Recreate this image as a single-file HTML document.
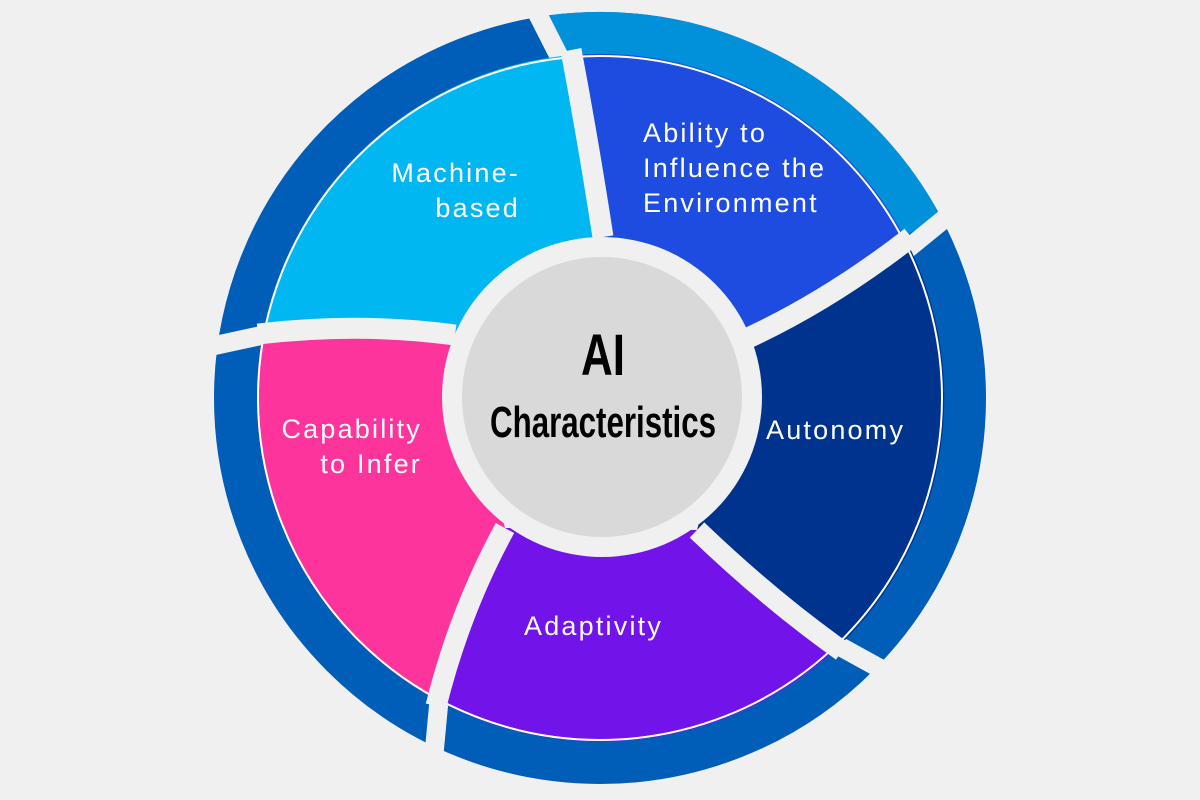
<!DOCTYPE html>
<html><head><meta charset="utf-8"><style>
html,body{margin:0;padding:0;background:#f0f0f0;}
svg{display:block;}
</style></head><body>
<svg width="1200" height="800" viewBox="0 0 1200 800" xmlns="http://www.w3.org/2000/svg">
<rect width="1200" height="800" fill="#f0f0f0"/>
<circle cx="600" cy="398" r="364" fill="none" stroke="#005eb8" stroke-width="44"/>
<path d="M549.3,37.5 A364,364 0 0 1 921.4,227.1" fill="none" stroke="#0091da" stroke-width="44"/>
<g stroke="#f0f0f0" stroke-width="19" fill="none">
<line x1="532" y1="3" x2="562" y2="62"/>
<line x1="954" y1="211" x2="900" y2="255"/>
<line x1="890" y1="674" x2="832" y2="642"/>
<line x1="434" y1="754" x2="440" y2="690"/>
<line x1="208" y1="347" x2="268" y2="334"/>
</g>
<path d="M603,237 Q588,140 572,55 A345,345 0 0 1 906,240 Q830,300 748,338 Z" fill="#1e4be0"/>
<path d="M748,338 Q830,300 906,240 A345,345 0 0 1 838,647 Q770,600 697,530 Z" fill="#00338d"/>
<path d="M697,530 Q770,600 838,647 A345,345 0 0 1 437,700 Q460,610 505,528 Z" fill="#7213ea"/>
<path d="M505,528 Q460,610 437,700 A345,345 0 0 1 263,333 Q360,322 455,335 Z" fill="#fd349c"/>
<path d="M455,335 Q360,322 263,333 A345,345 0 0 1 572,55 Q588,140 603,237 Z" fill="#00b7f1"/>
<circle cx="600" cy="398" r="342" fill="none" stroke="#ffffff" stroke-width="2"/>
<g stroke="#f0f0f0" stroke-width="21" fill="none">
<path d="M603,237 Q588,140 571,50"/>
<path d="M748,338 Q830,300 911,237"/>
<path d="M697,530 Q770,600 842,651"/>
<path d="M505,528 Q460,610 436,706"/>
<path d="M455,335 Q360,322 258,334"/>
</g>
<circle cx="602" cy="397" r="160" fill="#f0f0f0"/>
<circle cx="602" cy="397" r="140" fill="#d9d9d9"/>
<g font-family="Liberation Sans, sans-serif" font-size="27" fill="#ffffff" letter-spacing="2.2">
<text x="520" y="182" text-anchor="end">Machine-</text>
<text x="520" y="217" text-anchor="end">based</text>
<text x="643" y="142">Ability to</text>
<text x="643" y="177">Influence the</text>
<text x="643" y="212">Environment</text>
<text x="422" y="438" text-anchor="end">Capability</text>
<text x="422" y="473" text-anchor="end">to Infer</text>
<text x="766" y="439">Autonomy</text>
<text x="524" y="635">Adaptivity</text>
</g>
<g font-family="Liberation Sans Narrow, Liberation Sans, sans-serif" font-weight="bold" fill="#000000">
<text x="581" y="375" font-size="58" textLength="44" lengthAdjust="spacingAndGlyphs">AI</text>
<text x="490" y="437" font-size="44" textLength="226" lengthAdjust="spacingAndGlyphs">Characteristics</text>
</g>
</svg>
</body></html>
